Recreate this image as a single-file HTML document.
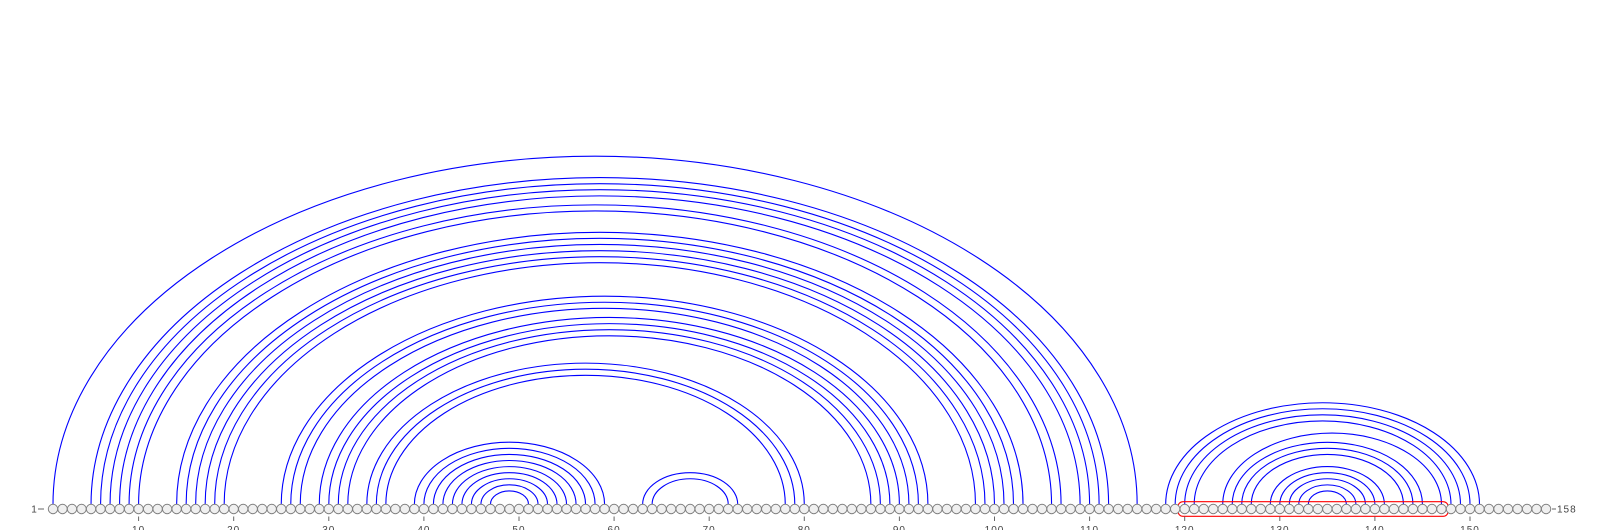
<!DOCTYPE html>
<html><head><meta charset="utf-8"><style>
html,body{margin:0;padding:0;background:#fff;}
svg{display:block;font-family:"Liberation Sans",sans-serif;}
</style></head><body>
<svg id="chart" width="1600" height="530" viewBox="0 0 1600 530" xmlns="http://www.w3.org/2000/svg"></svg>
<script>
const nodeCount = 158;
const pairLeft  = [1,5,6,7,8,9,10,14,15,16,17,18,19,25,26,27,29,30,31,32,34,35,36,39,40,41,42,43,44,45,46,47,63,64,118,119,120,121,124,125,126,127,129,130,131,132,133];
const pairRight = [115,112,111,110,109,107,106,103,102,101,100,99,98,93,92,91,90,89,88,87,80,79,78,59,58,57,56,55,54,53,52,51,73,72,151,150,149,148,147,145,144,143,141,140,139,138,137];
const tickValues = [10,20,30,40,50,60,70,80,90,100,110,120,130,140,150];
const highlightRange = [120,147];

const NS = "http://www.w3.org/2000/svg";
const svg = document.getElementById('chart');
const x0 = 53, dx = 9.51, baseY = 509, r = 4.7;
function xScale(n){ return x0 + (n - 1) * dx; }
function mk(tag, attrs){ const e = document.createElementNS(NS, tag); for (const k in attrs) e.setAttribute(k, attrs[k]); svg.appendChild(e); return e; }

// arcs
for (let i = 0; i < pairLeft.length; i++) {
  const xa = xScale(pairLeft[i]), xb = xScale(pairRight[i]);
  const rx = (xb - xa) / 2;
  const ry = 0.64 * rx + 1.2;
  const y = baseY - r;
  const p = mk('path', {d:`M${xa},${y} A${rx},${ry} 0 0 1 ${xb},${y}`, fill:'none', stroke:'#0000ff', 'stroke-width':1.1});
  
  
}

// highlight rect
const hx1 = xScale(highlightRange[0]) - r - 2, hx2 = xScale(highlightRange[1]) + r + 2;
const hr = mk('rect', {x:hx1, y:baseY - 7.3, width:hx2 - hx1, height:14.6, rx:5, ry:5, fill:'none', stroke:'#ff0000', 'stroke-width':1.1});



// nodes
for (let n = 1; n <= nodeCount; n++) {
  const c = mk('circle', {cx:xScale(n), cy:baseY, r:r, fill:'#f0f0f0', stroke:'#808080', 'stroke-width':1});
  
  
}

// ticks
for (const t of tickValues) {
  const tx = xScale(t);
  const l = mk('line', {x1:tx, x2:tx, y1:516.5, y2:521, stroke:'#666', 'stroke-width':1});
  
  
  const tl = mk('text', {x:tx, y:533, 'text-anchor':'middle', 'font-size':10, fill:'#444', 'letter-spacing':'1'});
  tl.textContent = String(t);
  
  
}

// end labels
const s1 = mk('line', {x1:38, x2:44, y1:baseY, y2:baseY, stroke:'#666', 'stroke-width':1});


const t1 = mk('text', {x:34, y:baseY + 3.5, 'text-anchor':'middle', 'font-size':10, fill:'#444'});
t1.textContent = '1';


const s2 = mk('line', {x1:1552, x2:1556, y1:baseY, y2:baseY, stroke:'#666', 'stroke-width':1});


const t2 = mk('text', {x:1557, y:baseY + 3.5, 'text-anchor':'start', 'font-size':10, fill:'#444', 'letter-spacing':'1'});
t2.textContent = String(nodeCount);


</script>
</body></html>
